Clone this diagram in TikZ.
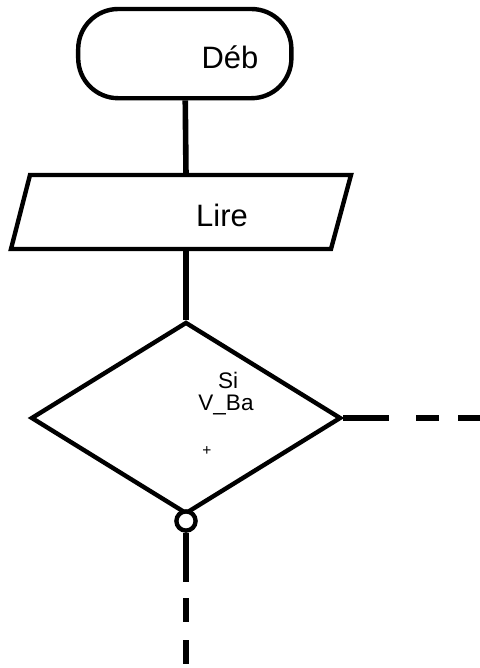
\documentclass[tikz,border=0pt]{standalone}
\usepackage{fontspec}
\setmainfont{Liberation Sans}
\usetikzlibrary{shapes.geometric}
\begin{document}
\begin{tikzpicture}[box/.style={draw, line width=0.11cm},
  link/.style={line width=0.14cm},
  dashlink/.style={line width=0.14cm, dash pattern=on 0.6cm off 0.45cm},
  txt/.style={inner sep=0pt}]
\useasboundingbox (0,0) rectangle (12,-16.7);

\node [box, rounded corners=1cm, minimum width=5.33cm, minimum height=2.23cm] (v1) at (4.62,-1.34) {};
\node [txt] (t1) at (5.75,-1.42) {\fontsize{22}{26}\selectfont Déb};

\draw [box] (0.75,-4.375) -- (8.775,-4.375) -- (8.275,-6.225) -- (0.275,-6.225) -- cycle;
\coordinate (v2) at (4.65,-4.375);
\coordinate (v3) at (4.65,-6.225);
\node [txt] (t2) at (5.55,-5.375) {\fontsize{22}{26}\selectfont Lire};

\node [box, diamond, inner sep=0pt, minimum width=7.75cm, minimum height=4.8cm] (v4) at (4.65,-10.45) {};
\node [txt] (t3) at (5.7,-9.5) {\fontsize{16}{18}\selectfont Si};
\node [txt] (t4) at (5.65,-10.12) {\fontsize{16}{18}\selectfont V\_Ba};
\node [txt] (t5) at (5.17,-11.28) {\fontsize{11}{12}\selectfont +};

\node [box, circle, fill=white, inner sep=0pt, minimum size=0.48cm] (v5) at (4.65,-13.025) {};

\coordinate (v6) at (9.725,-10.45);
\coordinate (v7) at (10.4,-10.45);
\coordinate (v8) at (12,-10.45);
\coordinate (v9) at (4.65,-14.55);
\coordinate (v10) at (4.65,-14.95);
\coordinate (v11) at (4.65,-16.7);

\draw [link] (v1) -- (v2);
\draw [link] (v3) -- (v4);
\draw [link] (v4.east) -- (v6);
\draw [dashlink, dash pattern=on 0.575cm off 0.475cm] (v7) -- (v8);
\draw [link] (v5) -- (v9);
\draw [dashlink] (v10) -- (v11);
\end{tikzpicture}
\end{document}
